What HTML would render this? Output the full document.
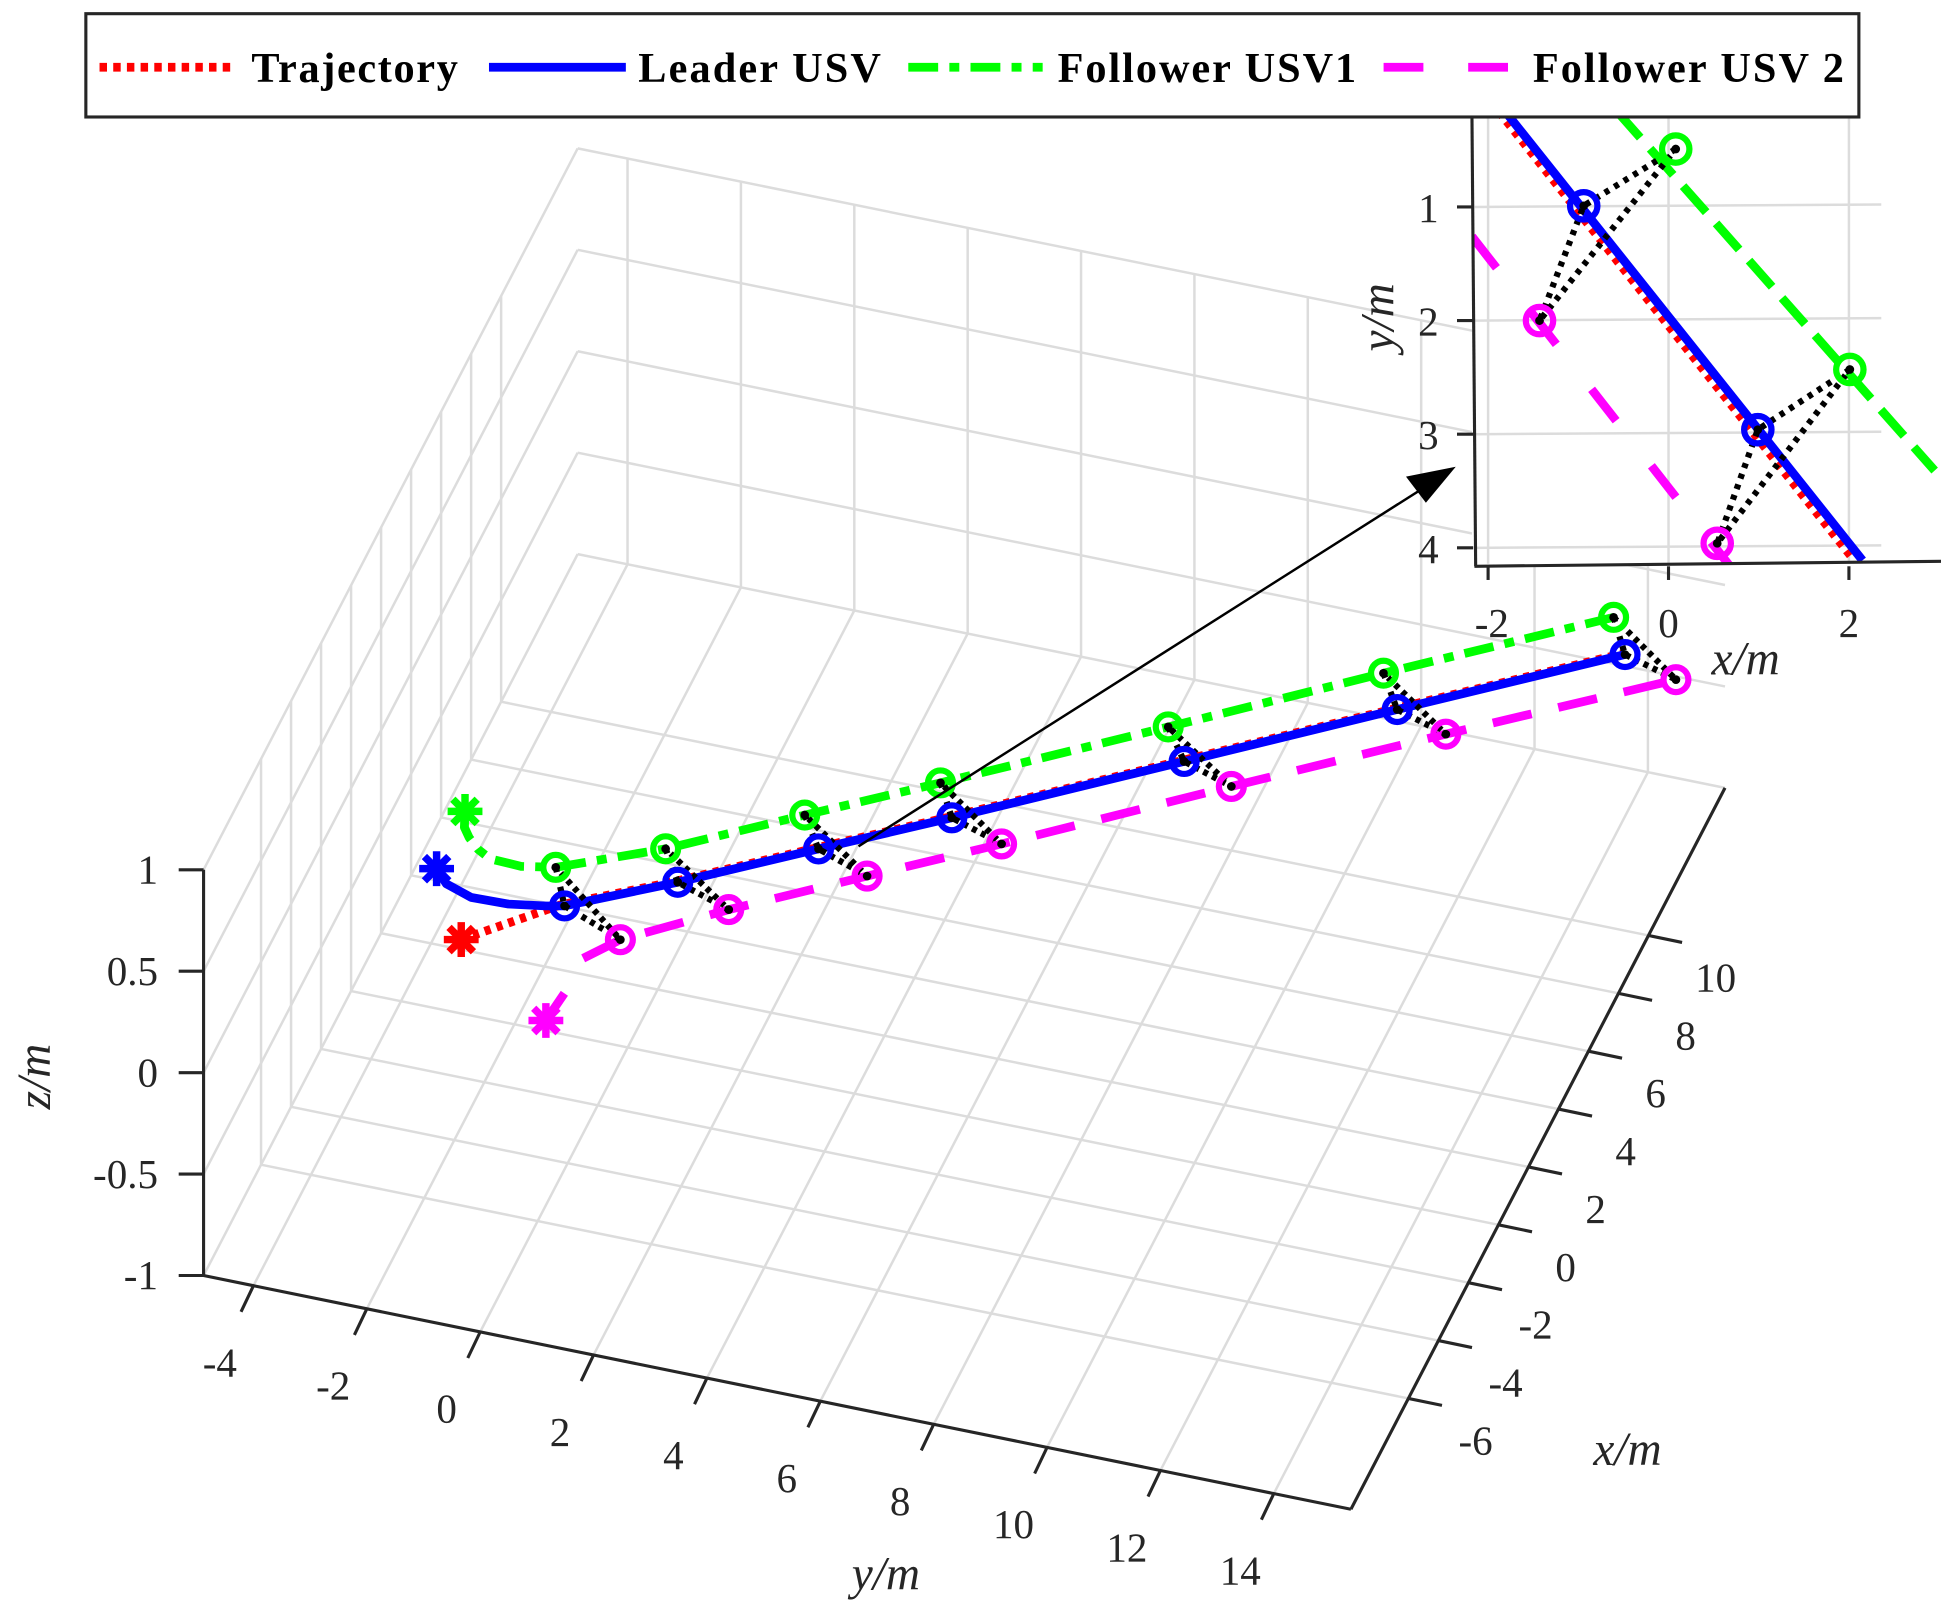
<!DOCTYPE html>
<html><head><meta charset="utf-8"><style>html,body{margin:0;padding:0;background:#fff}svg{display:block}</style></head>
<body>
<svg id="fig" width="1941" height="1603" viewBox="0 0 1560 1288" preserveAspectRatio="none" xmlns="http://www.w3.org/2000/svg" font-family="Liberation Serif, serif">
<g id="grid"></g>
<g id="axes"></g>
<g id="data"></g>
<g id="inset"></g>
<g id="legend">
<rect x="69" y="11" width="1425" height="83" fill="#fff" stroke="#262626" stroke-width="2.5"/>
<g><line x1="80" y1="54" x2="188" y2="54" stroke="#ff0000" stroke-width="7" stroke-dasharray="6 5"/><text x="202" y="66" font-size="34" font-weight="bold" textLength="166">Trajectory</text></g>
<g><line x1="393" y1="54" x2="503" y2="54" stroke="#0000ff" stroke-width="7"/><text x="513" y="66" font-size="34" font-weight="bold" textLength="195">Leader USV</text></g>
<g><line x1="730" y1="54" x2="838" y2="54" stroke="#00ff00" stroke-width="7" stroke-dasharray="24 9 8 9"/><text x="850" y="66" font-size="34" font-weight="bold" textLength="240">Follower USV1</text></g>
<g><line x1="1112" y1="54" x2="1215" y2="54" stroke="#ff00ff" stroke-width="7" stroke-dasharray="32 36"/><text x="1232" y="66" font-size="34" font-weight="bold" textLength="250">Follower USV 2</text></g>
</g>
</svg>
<script>
// ---- data (metres) ----
const xTicks = [-6,-4,-2,0,2,4,6,8,10];
const yTicks = [-4,-2,0,2,4,6,8,10,12,14];
const zTicks = [-1,-0.5,0,0.5,1];
const zTickLabels = ['-1','-0.5','0','0.5','1'];
const leaderX = [-1.97,-2.38,-2.65,-2.62,-2.44,-2.32,-0.86,1.08,2.90,6.14,9.12,12.29];
const leaderY = [-2.85,-2.57,-2.06,-1.41,-0.80,-0.50,1.11,3.08,4.95,8.19,11.16,14.34];
const trajX = [-4.03,-2.32,-0.86,1.08,2.90,6.14,9.12,12.29];
const trajY = [-1.87,-0.58,1.05,3.02,4.89,8.13,11.10,14.28];
const f1X = [0.00,-0.50,-0.79,-1.10,-1.32,-1.36,-1.17,0.11,2.05,3.92,7.12,10.17,13.38];
const f1Y = [-2.87,-2.75,-2.59,-2.35,-2.08,-1.52,-0.96,0.64,2.58,4.48,7.65,10.64,13.85];
const f2X = [-6.02,-5.05,-3.84,-3.02,-1.39,0.54,2.40,5.66,8.66,11.83];
const f2Y = [0.15,0.22,0.23,0.67,2.15,4.08,5.96,9.15,12.14,15.36];
const leaderMarkX = [-2.32,-0.86,1.08,2.90,6.14,9.12,12.29];
const leaderMarkY = [-0.50,1.11,3.08,4.95,8.19,11.16,14.34];
const f1MarkX = [-1.17,0.11,2.05,3.92,7.12,10.17,13.38];
const f1MarkY = [-0.96,0.64,2.58,4.48,7.65,10.64,13.85];
const f2MarkX = [-3.02,-1.39,0.54,2.40,5.66,8.66,11.83];
const f2MarkY = [0.67,2.15,4.08,5.96,9.15,12.14,15.36];
// inset data
const insXTicks = [-2,0,2];
const insYTicks = [1,2,3,4];
const insLeaderX = [-1.81,2.15], insLeaderY = [0.16,4.11];
const insTrajX = [-1.88,2.06], insTrajY = [0.16,4.11];
const insF1X = [-0.57,2.95], insF1Y = [0.16,3.32];
const insF2X = [-2.18,0.68], insF2Y = [1.26,4.16];
const insLMX = [-0.94,0.99], insLMY = [0.99,2.96];
const insF1MX = [0.08,2.01], insF1MY = [0.49,2.43];
const insF2MX = [-1.43,0.54], insF2MY = [2.0,3.96];

const XMIN=-9.83, XMAX=15.1, YMIN=-4.88, YMAX=15.36;
function P(x,y,z){return [504.5+12.06*x+45.56*y, 678.6-23.25*x+9.28*y-163*z];}
const NS='http://www.w3.org/2000/svg';
function mk(parent,tag,attrs){const e=document.createElementNS(NS,tag);for(const k in attrs)e.setAttribute(k,attrs[k]);parent.appendChild(e);return e;}
function ln(parent,a,b,st,w,name){const e=mk(parent,'line',{x1:a[0],y1:a[1],x2:b[0],y2:b[1],stroke:st,'stroke-width':w});


return e;}
const G=document.getElementById('grid'),A=document.getElementById('axes'),D=document.getElementById('data'),I=document.getElementById('inset');
const gc='#dcdcdc';
yTicks.forEach(y=>{ln(G,P(XMIN,y,-1),P(XMAX,y,-1),gc,2,'floor-grid-y');ln(G,P(XMAX,y,-1),P(XMAX,y,1),gc,2,'backwall-grid-y');});
xTicks.forEach(x=>{ln(G,P(x,YMIN,-1),P(x,YMAX,-1),gc,2,'floor-grid-x');ln(G,P(x,YMIN,-1),P(x,YMIN,1),gc,2,'sidewall-grid-x');});
zTicks.forEach(z=>{ln(G,P(XMIN,YMIN,z),P(XMAX,YMIN,z),gc,2,'sidewall-grid-z');ln(G,P(XMAX,YMIN,z),P(XMAX,YMAX,z),gc,2,'backwall-grid-z');});
const ac='#262626';
ln(A,P(XMIN,YMIN,-1),P(XMIN,YMIN,1),ac,2.5,'z-axis-line');
ln(A,P(XMIN,YMIN,-1),P(XMIN,YMAX,-1),ac,2.5,'y-axis-line');
ln(A,P(XMIN,YMAX,-1),P(XMAX,YMAX,-1),ac,2.5,'x-axis-line');
function txt(parent,x,y,s,size,name,anchor,extra){const t=mk(parent,'text',Object.assign({x:x,y:y,'font-size':size,'text-anchor':anchor||'middle',fill:'#262626'},extra||{}));t.textContent=s;


return t;}
zTicks.forEach((z,i)=>{const p=P(XMIN,YMIN,z);ln(A,[p[0]-20,p[1]],p,ac,2.5,'z-tick');txt(A,127,p[1]+11,zTickLabels[i],33,'z-tick-label','end');});
yTicks.forEach(y=>{const p=P(XMIN,y,-1);ln(A,p,[p[0]-10,p[1]+21],ac,2.5,'y-tick');txt(A,p[0]-27,p[1]+73,String(y),33,'y-tick-label');});
xTicks.forEach(x=>{const p=P(x,YMAX,-1);ln(A,p,[p[0]+27,p[1]+5.6],ac,2.5,'x-tick');txt(A,p[0]+54,p[1]+45,String(x),33,'x-tick-label');});
txt(A,0,0,'z/m',38,'z-axis-title','middle',{'font-style':'italic',transform:'translate(40,865) rotate(-90)'});
txt(A,712,1277,'y/m',38,'y-axis-title','middle',{'font-style':'italic'});
txt(A,1308,1177,'x/m',38,'x-axis-title','middle',{'font-style':'italic'});

function path(parent,pts,st,w,dash,name){const d=pts.map((p,i)=>(i?'L':'M')+p[0].toFixed(1)+' '+p[1].toFixed(1)).join(' ');
const e=mk(parent,'path',{d:d,fill:'none',stroke:st,'stroke-width':w,'stroke-linejoin':'round'});if(dash)e.setAttribute('stroke-dasharray',dash);


return e;}
function pts3(xs,ys){return xs.map((x,i)=>P(x,ys[i],0));}
path(D,pts3(trajX,trajY),'#ff0000',7,'5 5','trajectory-line');
path(D,pts3(leaderX,leaderY),'#0000ff',7,null,'leader-line');
path(D,pts3(f1X,f1Y),'#00ff00',7,'24 9 8 9','follower1-line');
path(D,pts3(f2X.slice(0,2),f2Y.slice(0,2)),'#ff00ff',7,null,'follower2-start');
path(D,pts3(f2X.slice(2),f2Y.slice(2)),'#ff00ff',7,'32 22','follower2-line');
function star(parent,p,c,name){const g=mk(parent,'g',{});


const r=14;[[0,r],[r,0],[r*.7,r*.7],[r*.7,-r*.7]].forEach(d=>mk(g,'line',{x1:p[0]-d[0],y1:p[1]-d[1],x2:p[0]+d[0],y2:p[1]+d[1],stroke:c,'stroke-width':6}));}
star(D,P(leaderX[0],leaderY[0],0),'#0000ff','leader-start-marker');
star(D,P(trajX[0],trajY[0],0),'#ff0000','trajectory-start-marker');
star(D,P(f1X[0],f1Y[0],0),'#00ff00','follower1-start-marker');
star(D,P(f2X[0],f2Y[0],0),'#ff00ff','follower2-start-marker');
function circ(parent,p,c,r,name){const e=mk(parent,'circle',{cx:p[0],cy:p[1],r:r,fill:'none',stroke:c,'stroke-width':5});


mk(parent,'circle',{cx:p[0],cy:p[1],r:3.5,fill:'#000'});}
leaderMarkX.forEach((x,i)=>{const l=P(x,leaderMarkY[i],0),g=P(f1MarkX[i],f1MarkY[i],0),m=P(f2MarkX[i],f2MarkY[i],0);
path(D,[g,l,m,g],'#000',5,'4 4','formation-link');});
leaderMarkX.forEach((x,i)=>{circ(D,P(f1MarkX[i],f1MarkY[i],0),'#00ff00',10,'follower1-marker');circ(D,P(x,leaderMarkY[i],0),'#0000ff',10,'leader-marker');circ(D,P(f2MarkX[i],f2MarkY[i],0),'#ff00ff',10,'follower2-marker');});
// arrow
ln(D,[690,680],[1160,382],'#000',2,'zoom-arrow');
const ah=mk(D,'polygon',{points:'1170,375 1130,383 1146,404',fill:'#000'});


// inset
function Q(x,y){return [1341+72.5*x, 75+91.3*y];}
const bg=mk(I,'rect',{x:1183,y:90,width:377,height:365,fill:'#fff'});


const cp=mk(I,'clipPath',{id:'insclip'});mk(cp,'rect',{x:1185,y:90,width:375,height:363});
const IC=mk(I,'g',{'clip-path':'url(#insclip)'});


insXTicks.forEach(x=>ln(IC,Q(x,0),Q(x,5),gc,2,'inset-grid-x'));
insYTicks.forEach(y=>ln(IC,[1185,Q(0,y)[1]],[1512,Q(0,y)[1]-2],gc,2,'inset-grid-y'));
function pts2(xs,ys){return xs.map((x,i)=>Q(x,ys[i]));}
path(IC,pts2(insTrajX,insTrajY),'#ff0000',7,'5 5','inset-trajectory-line');
path(IC,pts2(insLeaderX,insLeaderY),'#0000ff',7,null,'inset-leader-line');
path(IC,pts2(insF1X,insF1Y),'#00ff00',7,'28 12','inset-follower1-line');
path(IC,pts2(insF2X,insF2Y),'#ff00ff',7,'32 46','inset-follower2-line');
insLMX.forEach((x,i)=>{const l=Q(x,insLMY[i]),g=Q(insF1MX[i],insF1MY[i]),m=Q(insF2MX[i],insF2MY[i]);path(IC,[g,l,m,g],'#000',5,'4 5','inset-formation-link');});
insLMX.forEach((x,i)=>{circ(IC,Q(insF1MX[i],insF1MY[i]),'#00ff00',11,'inset-follower1-marker');circ(IC,Q(x,insLMY[i]),'#0000ff',11,'inset-leader-marker');circ(IC,Q(insF2MX[i],insF2MY[i]),'#ff00ff',11,'inset-follower2-marker');});
ln(I,[1183,90],[1186,455],ac,2.5,'inset-y-axis-line');
ln(I,[1185,455],[1560,451],ac,2.5,'inset-x-axis-line');
insYTicks.forEach(y=>{const q=Q(0,y);ln(I,[1171,q[1]],[1184,q[1]],ac,2.5,'inset-y-tick');txt(I,1148,q[1]+12,String(y),33,'inset-y-tick-label');});
insXTicks.forEach(x=>{const q=Q(x,0);ln(I,[q[0],455],[q[0],466],ac,2.5,'inset-x-tick');txt(I,q[0]+(x<0?3:0),512,String(x),33,'inset-x-tick-label');});
txt(I,0,0,'y/m',38,'inset-y-axis-title','middle',{'font-style':'italic',transform:'translate(1120,255) rotate(-90)'});
txt(I,1403,542,'x/m',38,'inset-x-axis-title','middle',{'font-style':'italic'});
</script>
</body></html>
